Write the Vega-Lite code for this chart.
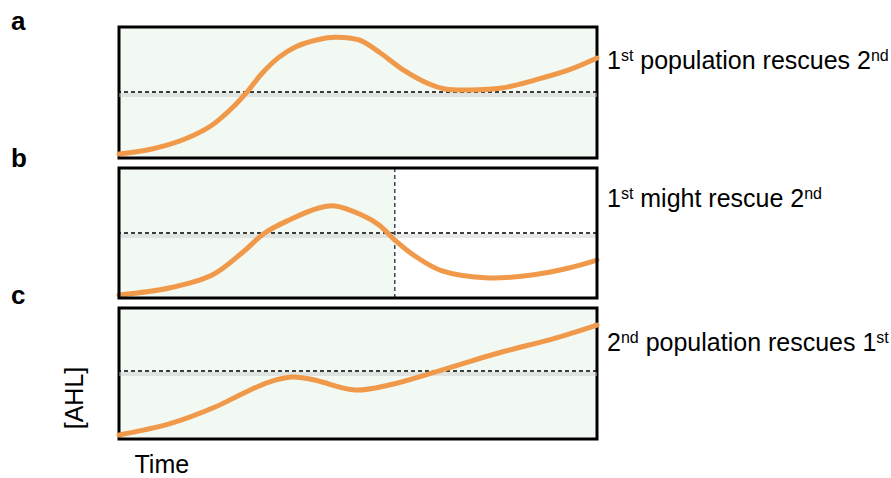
{
  "$schema": "https://vega.github.io/schema/vega-lite/v6.json",
  "padding": {"left": 9, "top": 7, "right": 0, "bottom": 0},
  "background": "white",
  "bounds": "flush",
  "spacing": 10,
  "config": {"font": "Liberation Sans"},
  "datasets": {
    "curveA": [
      {"t": 0, "ahl": 3.1}, {"t": 6.9, "ahl": 6.9}, {"t": 13.8, "ahl": 14.5}, {"t": 19.5, "ahl": 25.2},
      {"t": 24.3, "ahl": 40.5}, {"t": 26.8, "ahl": 50.4}, {"t": 29.9, "ahl": 64.5}, {"t": 33.5, "ahl": 77.0},
      {"t": 37.0, "ahl": 85.0}, {"t": 41.8, "ahl": 90.5}, {"t": 45.2, "ahl": 92.2}, {"t": 50.2, "ahl": 90.1},
      {"t": 54.4, "ahl": 80.9}, {"t": 59.2, "ahl": 67.9}, {"t": 64.9, "ahl": 56.5}, {"t": 68.2, "ahl": 52.7},
      {"t": 73.2, "ahl": 51.9}, {"t": 80.1, "ahl": 53.4}, {"t": 87.0, "ahl": 59.5}, {"t": 94.1, "ahl": 67.2},
      {"t": 100, "ahl": 76.3}
    ],
    "curveB": [
      {"t": 0, "ahl": 2.3}, {"t": 10.5, "ahl": 7.7}, {"t": 19.5, "ahl": 17.7}, {"t": 25.7, "ahl": 34.6},
      {"t": 30.5, "ahl": 50}, {"t": 35.6, "ahl": 60}, {"t": 41.8, "ahl": 69.2}, {"t": 45.2, "ahl": 70.8},
      {"t": 50.8, "ahl": 63.8}, {"t": 54.4, "ahl": 56.2}, {"t": 57.7, "ahl": 44.6}, {"t": 61.9, "ahl": 32.3},
      {"t": 67.6, "ahl": 20.8}, {"t": 77.4, "ahl": 15.4}, {"t": 86.4, "ahl": 17.7}, {"t": 94.1, "ahl": 23.1},
      {"t": 100, "ahl": 29.2}
    ],
    "curveC": [
      {"t": 0, "ahl": 3.1}, {"t": 10.5, "ahl": 11.5}, {"t": 20.1, "ahl": 24.4}, {"t": 25.7, "ahl": 34.4},
      {"t": 31.4, "ahl": 43.5}, {"t": 36.2, "ahl": 47.3}, {"t": 41, "ahl": 45}, {"t": 42.5, "ahl": 43.5},
      {"t": 49.4, "ahl": 37.4}, {"t": 56.5, "ahl": 41.2}, {"t": 66.1, "ahl": 51.1}, {"t": 80.1, "ahl": 66.4},
      {"t": 90.6, "ahl": 76.3}, {"t": 100, "ahl": 87}
    ],
    "panels": [
      {"panel": "a", "letter": "a", "threshold": 50.4, "lead": "1", "sup1": "st", "body": "population rescues 2", "sup2": "nd"},
      {"panel": "b", "letter": "b", "threshold": 50, "switch": 57.7, "lead": "1", "sup1": "st", "body": "might rescue 2", "sup2": "nd"},
      {"panel": "c", "letter": "c", "threshold": 51.9, "lead": "2", "sup1": "nd", "body": "population rescues 1", "sup2": "st", "ylabel": "[AHL]", "xlabel": "Time"}
    ]
  },
  "vconcat": [
    {
      "width": 478, "height": 131,
      "view": {"fill": "#f2f8f2", "stroke": "#000000", "strokeWidth": 3},
      "data": {"name": "panels"},
      "transform": [{"filter": "datum.panel === 'a'"}],
      "layer": [
        {"mark": {"type": "rule", "stroke": "#c9cdc9", "strokeWidth": 4, "opacity": 0.45, "yOffset": 3},
         "encoding": {"y": {"field": "threshold", "type": "quantitative", "scale": {"domain": [0, 100], "nice": false}, "axis": null}}},
        {"mark": {"type": "rule", "stroke": "#000000", "strokeWidth": 1.3, "strokeDash": [4, 3]},
         "encoding": {"y": {"field": "threshold", "type": "quantitative", "scale": {"domain": [0, 100], "nice": false}, "axis": null}}},
        {"data": {"name": "curveA"},
         "mark": {"type": "line", "interpolate": "catmull-rom", "stroke": "#f0994a", "strokeWidth": 5, "strokeCap": "round"},
         "encoding": {"x": {"field": "t", "type": "quantitative", "scale": {"domain": [0, 100], "nice": false}, "axis": null},
                      "y": {"field": "ahl", "type": "quantitative", "scale": {"domain": [0, 100], "nice": false}, "axis": null}}},
        {"mark": {"type": "text", "fontSize": 26, "fontWeight": "bold", "align": "left", "baseline": "alphabetic", "dx": -108, "dy": 3, "color": "#000"},
         "encoding": {"x": {"datum": 0, "type": "quantitative"}, "y": {"datum": 100, "type": "quantitative"}, "text": {"field": "letter", "type": "nominal"}}},
        {"mark": {"type": "text", "fontSize": 25, "align": "left", "baseline": "alphabetic", "dx": 10, "color": "#000"},
         "encoding": {"x": {"datum": 100, "type": "quantitative"}, "y": {"datum": 67.7, "type": "quantitative"}, "text": {"field": "lead", "type": "nominal"}}},
        {"mark": {"type": "text", "fontSize": 16, "align": "left", "baseline": "alphabetic", "dx": 23.9, "dy": -8, "color": "#000"},
         "encoding": {"x": {"datum": 100, "type": "quantitative"}, "y": {"datum": 67.7, "type": "quantitative"}, "text": {"field": "sup1", "type": "nominal"}}},
        {"mark": {"type": "text", "fontSize": 25, "align": "left", "baseline": "alphabetic", "dx": 43.25, "color": "#000"},
         "encoding": {"x": {"datum": 100, "type": "quantitative"}, "y": {"datum": 67.7, "type": "quantitative"}, "text": {"field": "body", "type": "nominal"}}},
        {"mark": {"type": "text", "fontSize": 16, "align": "left", "baseline": "alphabetic", "dx": 273.9, "dy": -8, "color": "#000"},
         "encoding": {"x": {"datum": 100, "type": "quantitative"}, "y": {"datum": 67.7, "type": "quantitative"}, "text": {"field": "sup2", "type": "nominal"}}}
      ]
    },
    {
      "width": 478, "height": 130,
      "view": {"fill": "#ffffff", "stroke": null},
      "data": {"name": "panels"},
      "transform": [{"filter": "datum.panel === 'b'"}],
      "layer": [
        {"mark": {"type": "rect", "color": "#f2f8f2"},
         "encoding": {"x": {"field": "switch", "type": "quantitative", "scale": {"domain": [0, 100], "nice": false}, "axis": null}, "x2": {"datum": 0},
                      "y": {"datum": 0, "type": "quantitative", "scale": {"domain": [0, 100], "nice": false}, "axis": null}, "y2": {"datum": 100}}},
        {"mark": {"type": "rule", "stroke": "#c9cdc9", "strokeWidth": 4, "opacity": 0.45, "yOffset": 3},
         "encoding": {"y": {"field": "threshold", "type": "quantitative", "axis": null}}},
        {"mark": {"type": "rule", "stroke": "#000000", "strokeWidth": 1.3, "strokeDash": [4, 3]},
         "encoding": {"y": {"field": "threshold", "type": "quantitative", "axis": null}}},
        {"mark": {"type": "rule", "stroke": "#1c2b45", "strokeWidth": 1.3, "strokeDash": [4, 3]},
         "encoding": {"x": {"field": "switch", "type": "quantitative", "axis": null}}},
        {"data": {"name": "curveB"},
         "mark": {"type": "line", "interpolate": "catmull-rom", "stroke": "#f0994a", "strokeWidth": 5, "strokeCap": "round"},
         "encoding": {"x": {"field": "t", "type": "quantitative", "axis": null},
                      "y": {"field": "ahl", "type": "quantitative", "axis": null}}},
        {"mark": {"type": "rect", "fill": null, "fillOpacity": 0, "stroke": "#000000", "strokeWidth": 3},
         "encoding": {"x": {"datum": 0, "type": "quantitative"}, "x2": {"datum": 100},
                      "y": {"datum": 0, "type": "quantitative"}, "y2": {"datum": 100}}},
        {"mark": {"type": "text", "fontSize": 26, "fontWeight": "bold", "align": "left", "baseline": "alphabetic", "dx": -108, "dy": -1, "color": "#000"},
         "encoding": {"x": {"datum": 0, "type": "quantitative"}, "y": {"datum": 100, "type": "quantitative"}, "text": {"field": "letter", "type": "nominal"}}},
        {"mark": {"type": "text", "fontSize": 25, "align": "left", "baseline": "alphabetic", "dx": 10, "color": "#000"},
         "encoding": {"x": {"datum": 100, "type": "quantitative"}, "y": {"datum": 70.2, "type": "quantitative"}, "text": {"field": "lead", "type": "nominal"}}},
        {"mark": {"type": "text", "fontSize": 16, "align": "left", "baseline": "alphabetic", "dx": 23.9, "dy": -8, "color": "#000"},
         "encoding": {"x": {"datum": 100, "type": "quantitative"}, "y": {"datum": 70.2, "type": "quantitative"}, "text": {"field": "sup1", "type": "nominal"}}},
        {"mark": {"type": "text", "fontSize": 25, "align": "left", "baseline": "alphabetic", "dx": 43.25, "color": "#000"},
         "encoding": {"x": {"datum": 100, "type": "quantitative"}, "y": {"datum": 70.2, "type": "quantitative"}, "text": {"field": "body", "type": "nominal"}}},
        {"mark": {"type": "text", "fontSize": 16, "align": "left", "baseline": "alphabetic", "dx": 207.2, "dy": -8, "color": "#000"},
         "encoding": {"x": {"datum": 100, "type": "quantitative"}, "y": {"datum": 70.2, "type": "quantitative"}, "text": {"field": "sup2", "type": "nominal"}}}
      ]
    },
    {
      "width": 478, "height": 131,
      "view": {"fill": "#f2f8f2", "stroke": "#000000", "strokeWidth": 3},
      "data": {"name": "panels"},
      "transform": [{"filter": "datum.panel === 'c'"}],
      "layer": [
        {"mark": {"type": "rule", "stroke": "#c9cdc9", "strokeWidth": 4, "opacity": 0.45, "yOffset": 3},
         "encoding": {"y": {"field": "threshold", "type": "quantitative", "scale": {"domain": [0, 100], "nice": false}, "axis": null}}},
        {"mark": {"type": "rule", "stroke": "#000000", "strokeWidth": 1.3, "strokeDash": [4, 3]},
         "encoding": {"y": {"field": "threshold", "type": "quantitative", "axis": null}}},
        {"data": {"name": "curveC"},
         "mark": {"type": "line", "interpolate": "catmull-rom", "stroke": "#f0994a", "strokeWidth": 5, "strokeCap": "round"},
         "encoding": {"x": {"field": "t", "type": "quantitative", "scale": {"domain": [0, 100], "nice": false}, "axis": null},
                      "y": {"field": "ahl", "type": "quantitative", "axis": null}}},
        {"mark": {"type": "text", "fontSize": 26, "fontWeight": "bold", "align": "left", "baseline": "alphabetic", "dx": -108, "dy": -4, "color": "#000"},
         "encoding": {"x": {"datum": 0, "type": "quantitative"}, "y": {"datum": 100, "type": "quantitative"}, "text": {"field": "letter", "type": "nominal"}}},
        {"mark": {"type": "text", "fontSize": 25, "align": "center", "baseline": "middle", "angle": 270, "color": "#000"},
         "encoding": {"x": {"datum": -9.2, "type": "quantitative"}, "y": {"datum": 31.3, "type": "quantitative"}, "text": {"field": "ylabel", "type": "nominal"}}},
        {"mark": {"type": "text", "fontSize": 25, "align": "left", "baseline": "alphabetic", "dx": 15.5, "dy": 34, "color": "#000"},
         "encoding": {"x": {"datum": 0, "type": "quantitative"}, "y": {"datum": 0, "type": "quantitative"}, "text": {"field": "xlabel", "type": "nominal"}}},
        {"mark": {"type": "text", "fontSize": 25, "align": "left", "baseline": "alphabetic", "dx": 10, "color": "#000"},
         "encoding": {"x": {"datum": 100, "type": "quantitative"}, "y": {"datum": 66.9, "type": "quantitative"}, "text": {"field": "lead", "type": "nominal"}}},
        {"mark": {"type": "text", "fontSize": 16, "align": "left", "baseline": "alphabetic", "dx": 23.9, "dy": -8, "color": "#000"},
         "encoding": {"x": {"datum": 100, "type": "quantitative"}, "y": {"datum": 66.9, "type": "quantitative"}, "text": {"field": "sup1", "type": "nominal"}}},
        {"mark": {"type": "text", "fontSize": 25, "align": "left", "baseline": "alphabetic", "dx": 48.65, "color": "#000"},
         "encoding": {"x": {"datum": 100, "type": "quantitative"}, "y": {"datum": 66.9, "type": "quantitative"}, "text": {"field": "body", "type": "nominal"}}},
        {"mark": {"type": "text", "fontSize": 16, "align": "left", "baseline": "alphabetic", "dx": 279.35, "dy": -8, "color": "#000"},
         "encoding": {"x": {"datum": 100, "type": "quantitative"}, "y": {"datum": 66.9, "type": "quantitative"}, "text": {"field": "sup2", "type": "nominal"}}}
      ]
    }
  ]
}
